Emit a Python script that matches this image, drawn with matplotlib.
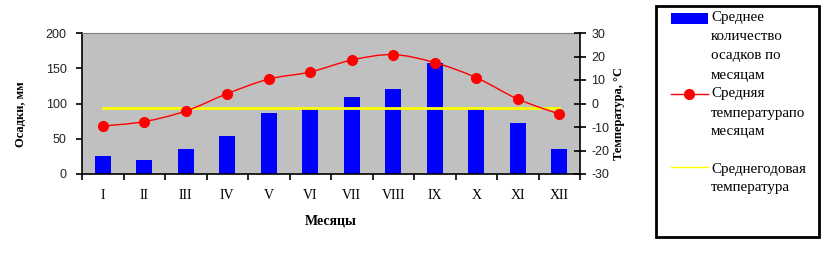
import numpy as np
import matplotlib.pyplot as plt
from matplotlib.path import Path
from matplotlib.patches import PathPatch, Rectangle
from matplotlib.lines import Line2D

plt.rcParams['axes.unicode_minus'] = False

months = ['I', 'II', 'III', 'IV', 'V', 'VI', 'VII', 'VIII', 'IX', 'X', 'XI', 'XII']
precip = [26, 20, 35, 54, 87, 92, 109, 120, 157, 93, 72, 35]
temp = [-9.6, -7.7, -3.2, 4.2, 10.4, 13.4, 18.5, 20.8, 17.4, 11.0, 1.9, -4.5]
annual_temp = -1.9

legend_labels = ['Среднее\nколичество\nосадков по\nмесяцам',
                 'Средняя\nтемпературапо\nмесяцам',
                 'Среднегодовая\nтемпература']

W, H = 830, 256
fig = plt.figure(figsize=(W / 100, H / 100), dpi=100)
fig.patch.set_facecolor('white')

# main plot area
ax = fig.add_axes([82 / W, 1 - 174 / H, 498 / W, 141 / H])
ax.set_facecolor('#c0c0c0')
x = np.arange(len(months))
ax.bar(x, precip, width=0.39, color='#0000ff', zorder=2)
ax.set_xlim(-0.5, 11.5)
ax.set_ylim(0, 200)
ax.set_yticks(range(0, 201, 50))
ax.set_xticks(x)
ax.set_xticklabels(months, family='Liberation Serif', fontsize=10)
ax.set_xticks(np.arange(-0.5, 12, 1), minor=True)
ax.tick_params(axis='x', which='major', length=0, pad=11)
ax.tick_params(axis='x', which='minor', length=4, width=1.2, direction='out')
ax.tick_params(axis='y', length=4, width=1.2, direction='out', pad=7, labelsize=9)
for lab in ax.get_yticklabels():
    lab.set_family('Liberation Sans')
    lab.set_color('#222222')
ax.spines['top'].set_color('#808080')
ax.spines['right'].set_visible(False)
ax.spines['left'].set_linewidth(1.2)
ax.spines['bottom'].set_linewidth(1.2)
ax.set_xlabel('Месяцы', family='Liberation Serif', fontsize=10, fontweight='bold', labelpad=9)

# temperature axis
ax2 = ax.twinx()
ax2.set_ylim(-30, 30)
ax2.set_yticks(range(-30, 31, 10))
ax2.tick_params(axis='y', length=8, width=1.2, direction='inout', pad=4, labelsize=9)
for lab in ax2.get_yticklabels():
    lab.set_family('Liberation Sans')
    lab.set_color('#222222')
for s in ['top', 'left', 'bottom']:
    ax2.spines[s].set_visible(False)
ax2.spines['right'].set_linewidth(1.2)

ax2.plot([x[0], x[-1]], [annual_temp, annual_temp], color='#ffff00', lw=2, zorder=3)

# smoothed temperature curve (Catmull-Rom through the data points)
pts = np.column_stack([x, temp]).astype(float)
ext = np.vstack([pts[0], pts, pts[-1]])
verts = [tuple(pts[0])]
codes = [Path.MOVETO]
for i in range(1, len(ext) - 2):
    p0, p1, p2, p3 = ext[i - 1], ext[i], ext[i + 1], ext[i + 2]
    c1 = p1 + (p2 - p0) / 6
    c2 = p2 - (p3 - p1) / 6
    verts += [tuple(c1), tuple(c2), tuple(p2)]
    codes += [Path.CURVE4] * 3
ax2.add_patch(PathPatch(Path(verts, codes), fill=False, edgecolor='#ff0000', lw=1, zorder=4))
ax2.plot(x, temp, 'o', color='#ff0000', markersize=7, zorder=5)

# axis titles
fig.text(21 / W, 1 - 114 / H, 'Осадки, мм', rotation=90, ha='center', va='center',
         family='Liberation Serif', fontsize=9, fontweight='bold')
fig.text(619 / W, 1 - 114 / H, 'Температура, °С', rotation=90, ha='center', va='center',
         family='Liberation Serif', fontsize=9, fontweight='bold')

# legend drawn on a pixel-space overlay
lg = fig.add_axes([0, 0, 1, 1])
lg.set_xlim(0, W)
lg.set_ylim(H, 0)
lg.axis('off')
lg.add_patch(Rectangle((656, 6), 163, 231, fill=False, edgecolor='black', lw=2))
lg.add_patch(Rectangle((671, 13), 37, 11, facecolor='#0000ff', edgecolor='none'))
lg.add_line(Line2D([671, 708], [94, 94], color='#ff0000', lw=1))
lg.add_line(Line2D([689], [94], marker='o', color='#ff0000', markersize=7))
lg.add_line(Line2D([671, 708], [167, 167], color='#ffff00', lw=1))
tops = [18, 94, 169]
for lab, t in zip(legend_labels, tops):
    for j, line in enumerate(lab.split('\n')):
        lg.text(711, t + 19 * j, line, ha='left', va='center',
                family='Liberation Serif', fontsize=10.8)

fig.savefig('out.png', dpi=100)
